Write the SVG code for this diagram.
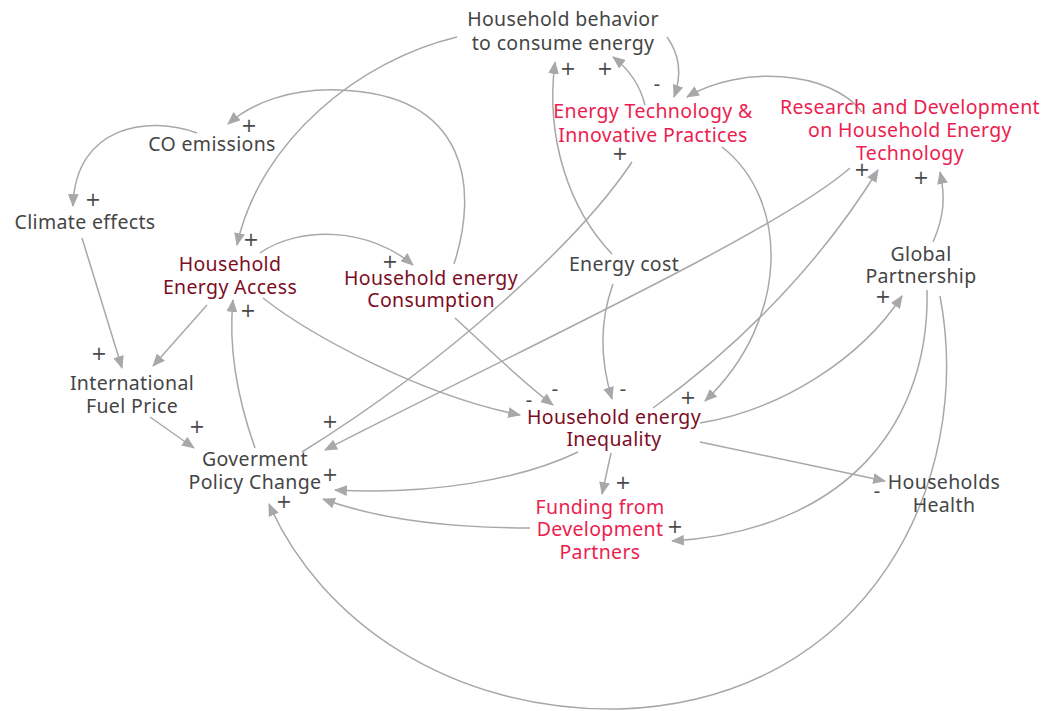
<svg xmlns="http://www.w3.org/2000/svg" width="1048" height="711" viewBox="0 0 1048 711">
<style>
.t{font-family:"Noto Sans","Open Sans",sans-serif;font-size:19.5px;letter-spacing:0.35px;text-anchor:middle;fill:#454545}
.dr{fill:#7c0d24}
.pk{fill:#ec1d4f}
.s{font-family:"DejaVu Sans","Noto Sans",sans-serif;font-size:19px;text-anchor:middle;fill:#4a4a4a}
.c path{fill:none;stroke:#a8a8ab;stroke-width:1.5}
.c path.a{marker-end:url(#ah)}
</style>
<defs>
<marker id="ah" viewBox="0 0 12 10" refX="11" refY="5" markerWidth="13" markerHeight="11" markerUnits="userSpaceOnUse" orient="auto">
<path d="M0,0 L12,5 L0,10 z" fill="#a8a8ab"/>
</marker>
</defs>
<rect width="1048" height="711" fill="#fff"/>
<g class="c" id="connectors">
<path class="a" d="M457,37 C360,60 260,140 237,245"/>
<path class="a" d="M454,264 C478,190 470,95 340,90 C290,88 252,103 228,124"/>
<path class="a" d="M197,133 C150,115 75,125 73,206"/>
<path class="a" d="M82,238 L122,368"/>
<path class="a" d="M207,305 L153,366"/>
<path class="a" d="M150,417 L194,448"/>
<path class="a" d="M255,448 C238,400 228,350 233,300"/>
<path class="a" d="M260,253 C300,225 370,228 413,265"/>
<path class="a" d="M263,298 C310,335 420,395 520,415"/>
<path class="a" d="M455,318 C490,350 520,380 553,405"/>
<path class="a" d="M613,284 C600,320 600,360 612,399"/>
<path class="a" d="M612,254 C570,210 545,140 555,62"/>
<path class="a" d="M722,147 C790,200 790,320 705,401"/>
<path class="a" d="M653,408 C720,360 810,280 878,170"/>
<path class="a" d="M850,168 C780,230 520,350 325,450"/>
<path d="M632,162 C580,240 450,360 302,452"/>
<path class="a" d="M700,423 C780,410 860,360 902,296"/>
<path class="a" d="M933,242 C945,215 945,195 940,172"/>
<path class="a" d="M700,442 L885,481"/>
<path class="a" d="M927,290 C930,420 850,530 672,541"/>
<path class="a" d="M940,296 C975,480 870,700 620,709 C450,712 320,620 269,504"/>
<path class="a" d="M667,37 C680,55 682,75 674,97"/>
<path class="a" d="M862,112 C830,70 740,65 687,97"/>
<path class="a" d="M645,105 C640,85 630,70 613,57"/>
<path class="a" d="M530,528 C450,528 380,520 323,499"/>
<path class="a" d="M578,452 C520,480 430,495 335,490"/>
<path class="a" d="M611,453 L602,494"/>
</g>
<g id="n-behavior"><text class="t" x="563" y="26">Household behavior</text><text class="t" x="563" y="50">to consume energy</text></g>
<g id="n-tech"><text class="t pk" x="653" y="118">Energy Technology &amp;</text><text class="t pk" x="653" y="142">Innovative Practices</text></g>
<g id="n-rnd"><text class="t pk" x="910" y="114">Research and Development</text><text class="t pk" x="910" y="137">on Household Energy</text><text class="t pk" x="910" y="160">Technology</text></g>
<g id="n-co"><text class="t" x="212" y="151">CO emissions</text></g>
<g id="n-climate"><text class="t" x="85" y="229">Climate effects</text></g>
<g id="n-access"><text class="t dr" x="230" y="271">Household</text><text class="t dr" x="230" y="294">Energy Access</text></g>
<g id="n-consumption"><text class="t dr" x="431" y="285">Household energy</text><text class="t dr" x="431" y="307">Consumption</text></g>
<g id="n-cost"><text class="t" x="624" y="271">Energy cost</text></g>
<g id="n-global"><text class="t" x="921" y="261">Global</text><text class="t" x="921" y="283">Partnership</text></g>
<g id="n-fuel"><text class="t" x="132" y="390">International</text><text class="t" x="132" y="413">Fuel Price</text></g>
<g id="n-gov"><text class="t" x="255" y="466">Goverment</text><text class="t" x="255" y="489">Policy Change</text></g>
<g id="n-inequality"><text class="t dr" x="614" y="424">Household energy</text><text class="t dr" x="614" y="446">Inequality</text></g>
<g id="n-funding"><text class="t pk" x="600" y="514">Funding from</text><text class="t pk" x="600" y="536">Development</text><text class="t pk" x="600" y="559">Partners</text></g>
<g id="n-health"><text class="t" x="944" y="489">Households</text><text class="t" x="944" y="512">Health</text></g>
<g id="polarity">
<text class="s" x="568" y="75">+</text>
<text class="s" x="605" y="75">+</text>
<text class="s" x="620" y="160">+</text>
<text class="s" x="249" y="132">+</text>
<text class="s" x="93" y="206">+</text>
<text class="s" x="251" y="246">+</text>
<text class="s" x="390" y="268">+</text>
<text class="s" x="248" y="317">+</text>
<text class="s" x="99" y="360">+</text>
<text class="s" x="197" y="433">+</text>
<text class="s" x="330" y="428">+</text>
<text class="s" x="330" y="481">+</text>
<text class="s" x="284" y="508">+</text>
<text class="s" x="623" y="489">+</text>
<text class="s" x="675" y="533">+</text>
<text class="s" x="688" y="404">+</text>
<text class="s" x="862" y="176">+</text>
<text class="s" x="921" y="184">+</text>
<text class="s" x="883" y="303">+</text>
<text class="s" x="657" y="91">-</text>
<text class="s" x="529" y="407">-</text>
<text class="s" x="555" y="396">-</text>
<text class="s" x="623" y="396">-</text>
<text class="s" x="877" y="498">-</text>
</g>
</svg>
